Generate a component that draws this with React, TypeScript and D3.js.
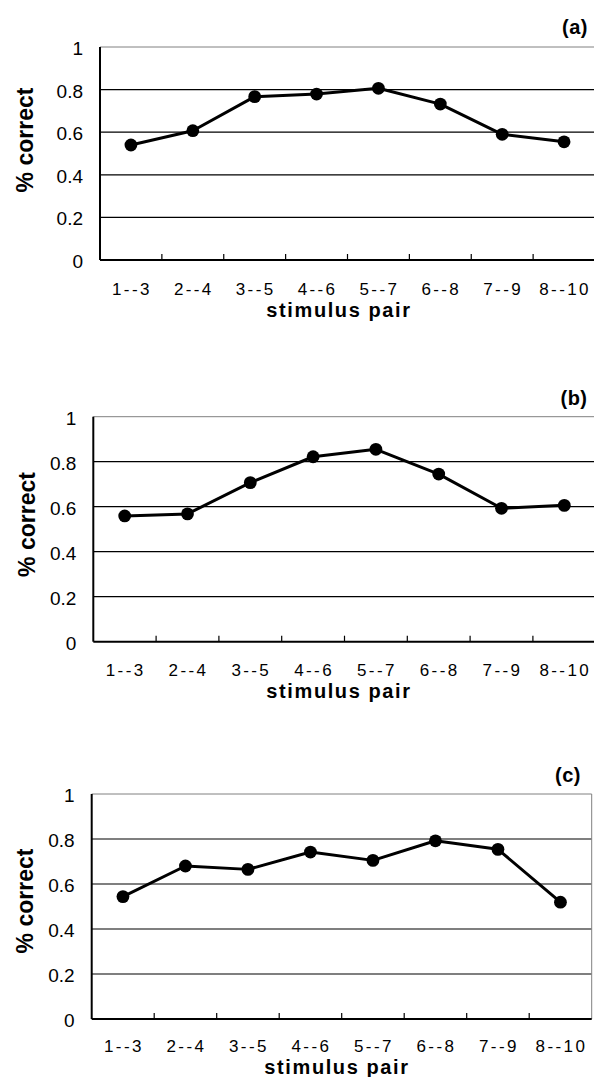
import React from "react";
import * as d3 from "d3";

const categories = ["1--3", "2--4", "3--5", "4--6", "5--7", "6--8", "7--9", "8--10"];
const seriesA = [0.54, 0.607, 0.767, 0.779, 0.806, 0.732, 0.59, 0.555];
const seriesB = [0.559, 0.568, 0.707, 0.822, 0.855, 0.745, 0.593, 0.606];
const seriesC = [0.544, 0.68, 0.665, 0.742, 0.705, 0.792, 0.754, 0.519];
const yTicks = [0, 0.2, 0.4, 0.6, 0.8, 1];
const yTickLabels = ["0", "0.2", "0.4", "0.6", "0.8", "1"];
const panelLabels = ["(a)", "(b)", "(c)"];
const xAxisTitle = "stimulus pair";
const yAxisTitle = "% correct";

const layouts = [
  { left: 100, right: 595, top: 47, bottom: 260, tickBase: 295, xlabBase: 317, xlabCx: 339, ylabX: 33, ylabCy: 140, titleX: 575, titleBase: 34 },
  { left: 93.3, right: 595.7, top: 416.7, bottom: 641.7, tickBase: 676, xlabBase: 698, xlabCx: 339, ylabX: 35, ylabCy: 524.5, titleX: 574, titleBase: 405 },
  { left: 91.7, right: 591.7, top: 794, bottom: 1019, tickBase: 1052, xlabBase: 1074, xlabCx: 337, ylabX: 33, ylabCy: 901, titleX: 568, titleBase: 782 },
];
const allSeries = [seriesA, seriesB, seriesC];

const FONT = "Liberation Sans, Arial, sans-serif";

function Panel({ data, title, L }: { data: number[]; title: string; L: any }) {
  const x = d3.scaleBand<string>().domain(categories).range([L.left, L.right]).padding(0);
  const y = d3.scaleLinear().domain([0, 1]).range([L.bottom, L.top]);
  const cx = (i: number) => (x(categories[i]) as number) + x.bandwidth() / 2;
  const line = d3
    .line<number>()
    .x((_, i) => cx(i))
    .y((d) => y(d));
  return (
    <g>
      {yTicks.map((t, i) =>
        t > 0 && t < 1 ? (
          <line key={"g" + i} x1={L.left} x2={L.right} y1={y(t)} y2={y(t)} stroke="#000" strokeWidth={1.2} />
        ) : null
      )}
      <line x1={L.left} x2={L.right} y1={y(1)} y2={y(1)} stroke="#808080" strokeWidth={1} />
      <line x1={L.right} x2={L.right} y1={y(1)} y2={y(0)} stroke="#808080" strokeWidth={1} />
      <line x1={L.left} x2={L.left} y1={y(1)} y2={y(0)} stroke="#000" strokeWidth={2} />
      <line x1={L.left} x2={L.right} y1={y(0)} y2={y(0)} stroke="#000" strokeWidth={2} />
      {categories.slice(1).map((c) => (
        <line key={"t" + c} x1={x(c) as number} x2={x(c) as number} y1={y(0)} y2={y(0) - 6} stroke="#000" strokeWidth={1.2} />
      ))}
      {yTicks.map((t, i) => (
        <text key={"yl" + i} x={L.left - 17} y={y(t) + 8} textAnchor="end" fontFamily={FONT} fontSize={19} fill="#000">
          {yTickLabels[i]}
        </text>
      ))}
      {categories.map((c, i) => (
        <text
          key={"xl" + c}
          x={cx(i) + 1}
          y={L.tickBase}
          textAnchor="middle"
          fontFamily={FONT}
          fontSize={17}
          letterSpacing={2.4}
          fill="#000"
        >
          {c}
        </text>
      ))}
      <path d={line(data) || ""} fill="none" stroke="#000" strokeWidth={3} strokeLinejoin="round" />
      {data.map((d, i) => (
        <circle key={"c" + i} cx={cx(i)} cy={y(d)} r={6.4} fill="#000" />
      ))}
      <text x={L.xlabCx} y={L.xlabBase} textAnchor="middle" fontFamily={FONT} fontWeight="bold" fontSize={20} letterSpacing={1.6} fill="#000">
        {xAxisTitle}
      </text>
      <text
        transform={`translate(${L.ylabX},${L.ylabCy}) rotate(-90)`}
        textAnchor="middle"
        fontFamily={FONT}
        fontWeight="bold"
        fontSize={23}
        fill="#000"
      >
        {yAxisTitle}
      </text>
      <text x={L.titleX} y={L.titleBase} textAnchor="middle" fontFamily={FONT} fontWeight="bold" fontSize={20} letterSpacing={0.5} fill="#000">
        {title}
      </text>
    </g>
  );
}

export default function App() {
  return (
    <svg width={594} height={1077} style={{ position: "absolute", left: 0, top: 0, background: "#fff" }}>
      <rect x={0} y={0} width={594} height={1077} fill="#fff" />
      {allSeries.map((s, i) => (
        <Panel key={i} data={s} title={panelLabels[i]} L={layouts[i]} />
      ))}
    </svg>
  );
}
